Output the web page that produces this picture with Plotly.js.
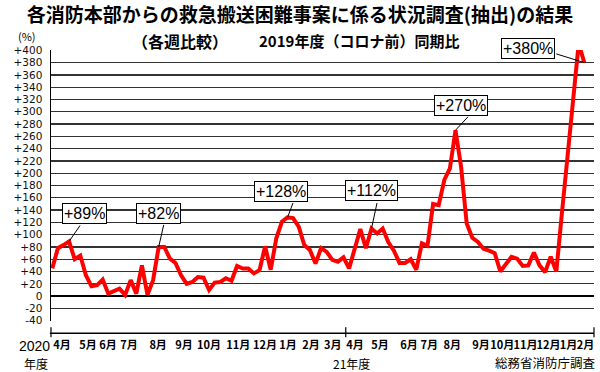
<!DOCTYPE html>
<html>
<head>
<meta charset="utf-8">
<script src="https://cdn.plot.ly/plotly-3.0.1.min.js"></script>
<style>
  html, body { margin: 0; padding: 0; background: #fff; }
  #chart { width: 600px; height: 372px; }
</style>
</head>
<body>
<div id="chart"></div>
<script>
// ---- data (weekly, FY2020 April week 1 .. FY2021 mid-February) ----
const weeklyValues = [
  45, 78, 83, 89, 60, 66, 34, 16, 18, 27,
  4, 8, 12, 2, 26, 4, 50, 2, 26, 80,
  80, 61, 54, 34, 20, 23, 31, 30, 10, 22,
  23, 29, 25, 49, 45, 45, 37, 42, 81, 43,
  94, 121, 128, 127, 113, 83, 75, 53, 78, 72,
  59, 56, 63, 45, 75, 109, 78, 110, 102, 110,
  88, 74, 54, 54, 60, 43, 86, 82, 150, 148,
  189, 208, 270, 210, 118, 95, 88, 77, 74, 70,
  40, 53, 64, 61, 49, 50, 71, 50, 39, 64,
  40, 135, 230, 325, 411, 380
];
const weekIndex = weeklyValues.map((_, i) => i);

const monthLabels = ['4月','5月','6月','7月','8月','9月','10月','11月','12月','1月','2月','3月',
                     '4月','5月','6月','7月','8月','9月','10月','11月','12月','1月','2月'];
const monthTickPos = [1.73, 6.38, 9.95, 13.7, 18.9, 23.5, 28.0, 33.2, 38.0, 42.1, 46.2, 50.1,
                      54.05, 58.5, 63.7, 67.3, 71.4, 76.55, 80.36, 84.48, 88.6, 92.18, 95.21];
const fiscalYearBoundary = 52.4;

const yTickVals = [-40,-20,0,20,40,60,80,100,120,140,160,180,200,220,240,260,280,300,320,340,360,380,400];
const yTickText = ['-40','-20','0','+20','+40','+60','+80','+100','+120','+140','+160','+180','+200',
                   '+220','+240','+260','+280','+300','+320','+340','+360','+380','+400'];

const calloutText  = ['+89%','+82%','+128%','+112%','+270%','+380%'];
const calloutIndex = [3, 19, 42, 57, 72, 95];

// ---- layout-only placement of callouts (pixel offsets from the data point) ----
const calloutBoxShift  = [[15.4, 27.9], [0.3, 33.4], [-6.5, 26], [-0.5, 38], [5.5, 24.4], [-56.3, 13.9]];
const calloutLineShift = [[11, 16], [5, 22], [5.5, 14.5], [5.5, 25.5], [12.5, 13.4], [-28, 8.7]];

const CJK = '"Noto Sans CJK JP", "Noto Sans", sans-serif';

const trace = {
  x: weekIndex,
  y: weeklyValues,
  type: 'scatter',
  mode: 'lines',
  line: { color: '#ff0000', width: 4 },
  hoverinfo: 'skip'
};

const shapes = [];
const annotations = [];

// decorative x axis line below plot with fiscal-year ticks
shapes.push({ type: 'line', xref: 'paper', yref: 'paper', x0: -0.002, x1: 1.0, y0: -0.0451, y1: -0.0451,
              line: { color: '#000', width: 1.5 } });
[{xref: 'paper', x: 0}, {xref: 'paper', x: 1}, {xref: 'x', x: fiscalYearBoundary}].forEach(t => {
  shapes.push({ type: 'line', xref: t.xref, yref: 'paper', x0: t.x, x1: t.x, y0: -0.0229, y1: -0.0599,
                line: { color: '#000', width: 1.2 } });
});

calloutText.forEach((txt, k) => {
  const i = calloutIndex[k];
  const v = weeklyValues[i];
  shapes.push({
    type: 'line', xref: 'x', yref: 'y',
    xsizemode: 'pixel', ysizemode: 'pixel',
    xanchor: i, yanchor: v,
    x0: 0, y0: 0, x1: calloutLineShift[k][0], y1: calloutLineShift[k][1],
    line: { color: '#000', width: 1 }
  });
  annotations.push({
    x: i, y: v, xref: 'x', yref: 'y',
    xshift: calloutBoxShift[k][0], yshift: calloutBoxShift[k][1],
    text: txt, showarrow: false,
    font: { family: '"Liberation Sans", Arial, sans-serif', size: 16, color: '#000' },
    bgcolor: '#fff', bordercolor: '#000', borderwidth: 1, borderpad: 1,
    xanchor: 'center', yanchor: 'middle'
  });
});

// header / footer texts
annotations.push(
  { xref: 'paper', yref: 'paper', x: 0.2376, y: 1.0325, text: '（各週比較）', showarrow: false,
    xanchor: 'center', yanchor: 'middle', font: { family: CJK, size: 16, weight: 'bold', color: '#000' } },
  { xref: 'paper', yref: 'paper', x: 0.568, y: 1.034, text: '2019年度（コロナ前）同期比', showarrow: false,
    xanchor: 'center', yanchor: 'middle', font: { family: CJK, size: 15, weight: 'bold', color: '#000' } },
  { xref: 'paper', yref: 'paper', x: -0.0442, y: 1.053, text: '(%)', showarrow: false,
    xanchor: 'center', yanchor: 'middle', font: { family: CJK, size: 11, color: '#000' } },
  { xref: 'paper', yref: 'paper', x: -0.0304, y: -0.0931, text: '2020', showarrow: false,
    xanchor: 'center', yanchor: 'middle', font: { family: '"Liberation Sans", Arial, sans-serif', size: 14, color: '#000' } },
  { xref: 'paper', yref: 'paper', x: -0.027, y: -0.1560, text: '年度', showarrow: false,
    xanchor: 'center', yanchor: 'middle', font: { family: CJK, size: 12, color: '#000' } },
  { xref: 'paper', yref: 'paper', x: 0.5525, y: -0.1560, text: '21年度', showarrow: false,
    xanchor: 'center', yanchor: 'middle', font: { family: CJK, size: 12, color: '#000' } },
  { xref: 'paper', yref: 'paper', x: 1.0074, y: -0.1545, text: '総務省消防庁調査', showarrow: false,
    xanchor: 'right', yanchor: 'middle', font: { family: CJK, size: 12.5, color: '#000' } }
);

const layout = {
  width: 600, height: 372, autosize: false,
  margin: { l: 51, r: 6, t: 50.3, b: 51.2, pad: 0 },
  paper_bgcolor: '#fff', plot_bgcolor: '#fff',
  showlegend: false,
  font: { family: CJK, color: '#000' },
  title: {
    text: '各消防本部からの救急搬送困難事案に係る状況調査(抽出)の結果',
    font: { family: CJK, size: 19, weight: 'bold', color: '#000' },
    xref: 'container', yref: 'container', x: 0.5, y: 0.9597, xanchor: 'center', yanchor: 'middle'
  },
  xaxis: {
    range: [-0.23, 96.73],
    tickvals: monthTickPos, ticktext: monthLabels, tickangle: 0,
    ticks: '', showgrid: false, zeroline: false, showline: false,
    tickfont: { family: CJK, size: 11, weight: 'bold', color: '#000' },
    ticklabelstandoff: 16,
    fixedrange: true
  },
  yaxis: {
    range: [-40.5, 400.5],
    tickvals: yTickVals, ticktext: yTickText,
    ticks: '', showgrid: true, gridcolor: '#333', gridwidth: 1.3,
    zeroline: true, zerolinecolor: '#000', zerolinewidth: 2.5,
    showline: true, linecolor: '#000', linewidth: 1.5,
    tickfont: { family: '"DejaVu Sans", sans-serif', size: 10.5, color: '#111' },
    ticklabelstandoff: 5,
    fixedrange: true
  },
  shapes: shapes,
  annotations: annotations
};

Plotly.newPlot('chart', [trace], layout, { staticPlot: true, displayModeBar: false });
</script>
</body>
</html>
